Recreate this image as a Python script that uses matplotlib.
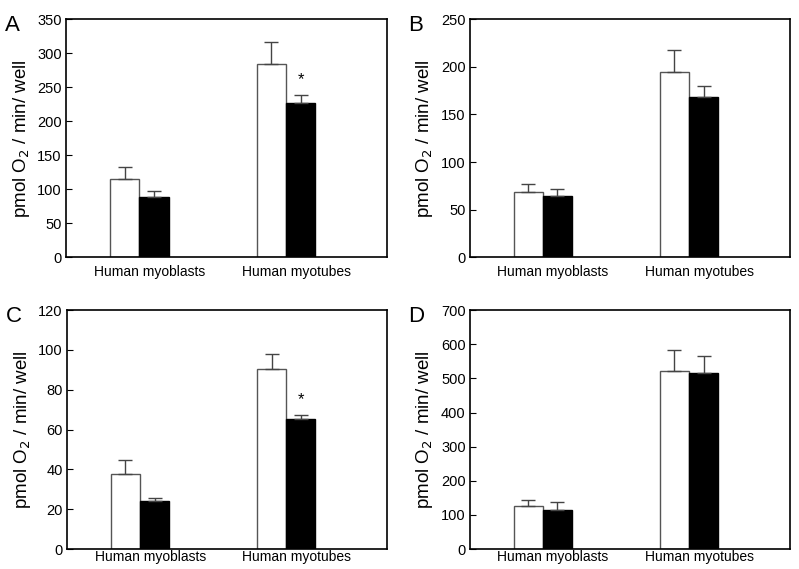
import matplotlib
matplotlib.use("Agg")
import matplotlib.pyplot as plt
import numpy as np

plt.rcParams['font.family'] = ['Liberation Sans', 'DejaVu Sans']

groups = ["Human myoblasts", "Human myotubes"]
panel_letters = ["A", "B", "C", "D"]

# white (control) and black (treated) means with upper error bars
white_a = [115, 285]
white_a_err = [18, 31]
black_a = [88, 227]
black_a_err = [10, 12]

white_b = [68, 195]
white_b_err = [9, 23]
black_b = [64, 168]
black_b_err = [8, 12]

white_c = [37.5, 90.6]
white_c_err = [7, 7.5]
black_c = [24, 65.2]
black_c_err = [1.8, 2.3]

white_d = [125, 521]
white_d_err = [19, 63]
black_d = [115, 516]
black_d_err = [23, 51]

y_max = [350, 250, 120, 700]
y_step = [50, 50, 20, 100]
star_a = [None, 262]
star_c = [None, 75]

panels = [
    (white_a, white_a_err, black_a, black_a_err, star_a),
    (white_b, white_b_err, black_b, black_b_err, None),
    (white_c, white_c_err, black_c, black_c_err, star_c),
    (white_d, white_d_err, black_d, black_d_err, None),
]

# axes rectangles in figure fractions
rects = [
    [0.0826, 0.548, 0.402, 0.418],
    [0.588, 0.548, 0.4005, 0.418],
    [0.0838, 0.035, 0.4005, 0.42],
    [0.588, 0.035, 0.4005, 0.42],
]
label_pad = [5.5, 5.5, 1.0, 1.0]

fig = plt.figure(figsize=(7.99, 5.69), dpi=100)
x = np.arange(len(groups))
w = 0.2

for i, (wv, we, bv, be, star) in enumerate(panels):
    ax = fig.add_axes(rects[i])
    ax.bar(x - w / 2, wv, w, color="white", edgecolor="#555555", linewidth=1)
    ax.bar(x + w / 2, bv, w, color="black", edgecolor="black", linewidth=1)
    ax.errorbar(x - w / 2, wv, yerr=[np.zeros(2), we], fmt="none",
                ecolor="#444444", elinewidth=1, capsize=4.8, capthick=1)
    ax.errorbar(x + w / 2, bv, yerr=[np.zeros(2), be], fmt="none",
                ecolor="#444444", elinewidth=1, capsize=4.8, capthick=1)
    if star is not None:
        for j, s in enumerate(star):
            if s is not None:
                ax.text(x[j] + w / 2, s, "*", ha="center", va="center", fontsize=12)
    ax.set_xlim(-0.5, 1.69)
    ax.set_ylim(0, y_max[i])
    ax.set_yticks(np.arange(0, y_max[i] + 1, y_step[i]))
    ax.set_xticks(x + 0.07)
    ax.set_xticklabels(groups, fontsize=10)
    ax.tick_params(axis="x", length=0, pad=label_pad[i])
    ax.tick_params(axis="y", direction="in", length=4, labelsize=10.5, pad=3)
    ax.set_ylabel("pmol O$_2$ / min/ well", fontsize=13.5, labelpad=4)
    for sp in ax.spines.values():
        sp.set_linewidth(1.2)
    pos = rects[i]
    fig.text(pos[0] - 0.077, pos[1] + pos[3] + 0.008, panel_letters[i],
             fontsize=16, ha="left", va="top")

fig.savefig("out.png", dpi=100)
